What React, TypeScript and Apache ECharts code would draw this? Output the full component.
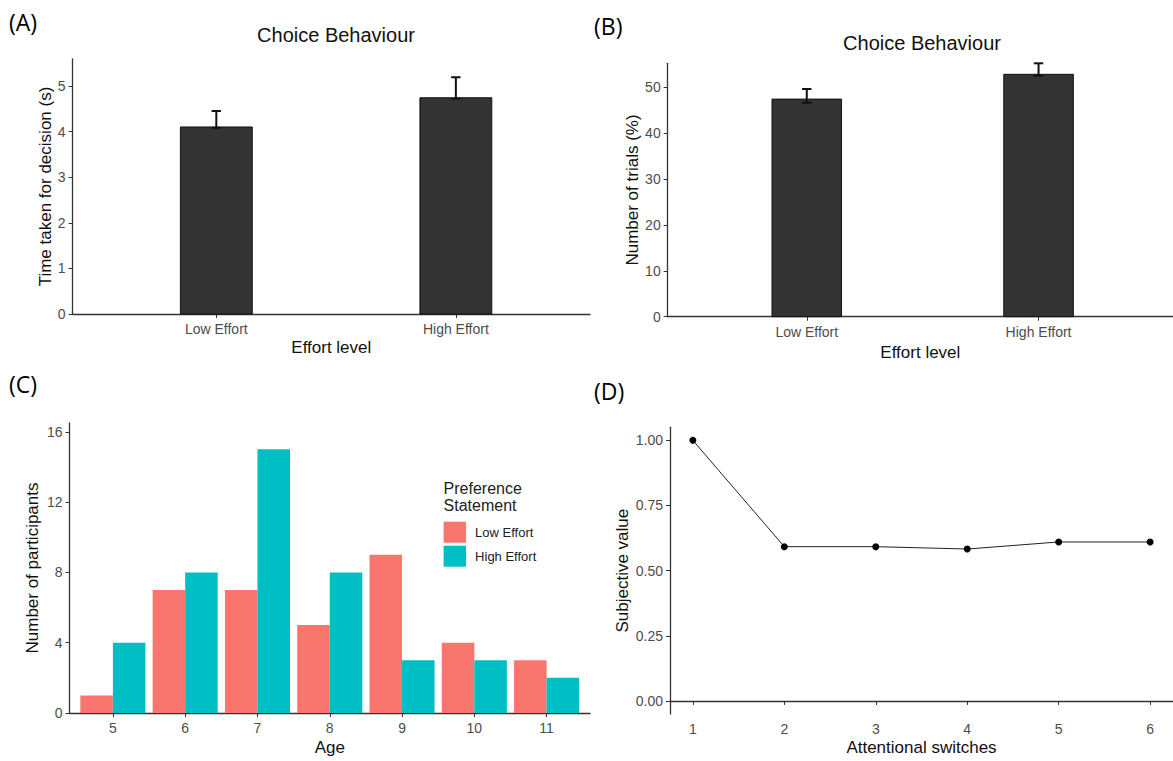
import React, { useEffect, useRef } from "react";
import * as echarts from "echarts";

const effortCats = ["Low Effort", "High Effort"];
const effortPos = [1, 2];
const decisionTime = [4.1, 4.74];
const decisionErrLow = [4.08, 4.72];
const decisionErrHigh = [4.45, 5.19];
const trialsPct = [47.4, 52.8];
const trialsErrLow = [46.6, 52.5];
const trialsErrHigh = [49.6, 55.2];

const ages = [5, 6, 7, 8, 9, 10, 11];
const lowEffortCounts = [1, 7, 7, 5, 9, 4, 3];
const highEffortCounts = [4, 8, 15, 8, 3, 3, 2];

const switches = [1, 2, 3, 4, 5, 6];
const subjectiveValue = [1.0, 0.592, 0.592, 0.583, 0.61, 0.61];

const yTicksA = [0, 1, 2, 3, 4, 5];
const yTicksB = [0, 10, 20, 30, 40, 50];
const yTicksC = [0, 4, 8, 12, 16];
const yTicksD = [0, 0.25, 0.5, 0.75, 1.0];

const FONT = "Liberation Sans";
const TICK_COLOR = "#4d4d4d";
const AXIS_COLOR = "#333";

function barRender(width: number, offset: number, stroke: string) {
  return (params: any, api: any) => {
    const x = api.value(0) + offset;
    const v = api.value(1);
    const p0 = api.coord([x - width / 2, v]);
    const p1 = api.coord([x + width / 2, 0]);
    return {
      type: "rect",
      shape: { x: p0[0], y: p0[1], width: p1[0] - p0[0], height: p1[1] - p0[1] },
      style: { fill: api.visual("color"), stroke, lineWidth: stroke === "none" ? 0 : 1 },
    };
  };
}

function errRender(params: any, api: any) {
  const x = api.value(0);
  const lo = api.coord([x, api.value(1)]);
  const hi = api.coord([x, api.value(2)]);
  const hw = 4.7;
  const st = { stroke: "#111", lineWidth: 2 };
  return {
    type: "group",
    children: [
      { type: "line", shape: { x1: lo[0], y1: lo[1], x2: hi[0], y2: hi[1] }, style: st },
      { type: "line", shape: { x1: hi[0] - hw, y1: hi[1], x2: hi[0] + hw, y2: hi[1] }, style: st },
      { type: "line", shape: { x1: lo[0] - hw, y1: lo[1], x2: lo[0] + hw, y2: lo[1] }, style: st },
    ],
  };
}

function xAxisCfg(gridIndex: number, min: number, max: number, values: number[], fmt: (v: number) => string, name: string, nameGap: number) {
  return {
    type: "value",
    gridIndex,
    min,
    max,
    name,
    nameLocation: "middle",
    nameGap,
    nameTextStyle: { fontFamily: FONT, fontSize: 17, color: "#111" },
    axisLine: { show: true, lineStyle: { color: AXIS_COLOR, width: 1.3 } },
    axisTick: { show: true, length: 4, lineStyle: { color: AXIS_COLOR }, customValues: values },
    axisLabel: { show: true, margin: 8, fontFamily: FONT, fontSize: 14, color: TICK_COLOR, customValues: values, formatter: fmt },
    splitLine: { show: false },
  };
}

function yAxisCfg(gridIndex: number, min: number, max: number, values: number[], fmt: (v: number) => string, name: string, nameGap: number) {
  return {
    type: "value",
    gridIndex,
    min,
    max,
    name,
    nameLocation: "middle",
    nameGap,
    nameRotate: 90,
    nameTextStyle: { fontFamily: FONT, fontSize: 17, color: "#111" },
    axisLine: { show: true, lineStyle: { color: AXIS_COLOR, width: 1.3 } },
    axisTick: { show: true, length: 4, lineStyle: { color: AXIS_COLOR }, customValues: values },
    axisLabel: { show: true, margin: 7, fontFamily: FONT, fontSize: 14, color: TICK_COLOR, customValues: values, formatter: fmt },
    splitLine: { show: false },
  };
}

export default function App() {
  const ref = useRef<HTMLDivElement>(null);
  useEffect(() => {
    if (!ref.current) return;
    const chart = echarts.init(ref.current, undefined, { renderer: "svg" });
    const catFmt = (v: number) => {
      const i = effortPos.indexOf(v);
      return i >= 0 ? effortCats[i] : "";
    };
    const option: any = {
      animation: false,
      backgroundColor: "#fff",
      grid: [
        { left: 72.6, right: 583, top: 59, bottom: 447 },
        { left: 667.7, right: 0, top: 63.3, bottom: 444.3 },
        { left: 69.5, right: 583, top: 423, bottom: 48 },
        { left: 670, right: 0, top: 427.3, bottom: 47 },
      ],
      xAxis: [
        xAxisCfg(0, 0.4, 2.56, effortPos, catFmt, "Effort level", 25),
        xAxisCfg(1, 0.4, 2.58, effortPos, catFmt, "Effort level", 27),
        xAxisCfg(2, 4.4, 11.6, ages, (v: number) => String(v), "Age", 26),
        xAxisCfg(3, 0.75, 6.25, switches, (v: number) => String(v), "Attentional switches", 25),
      ],
      yAxis: [
        yAxisCfg(0, 0, 5.59, yTicksA, (v: number) => String(v), "Time taken for decision (s)", 19),
        yAxisCfg(1, 0, 55.2, yTicksB, (v: number) => String(v), "Number of trials (%)", 27),
        yAxisCfg(2, 0, 16.5, yTicksC, (v: number) => String(v), "Number of participants", 29),
        yAxisCfg(3, -0.05, 1.05, yTicksD, (v: number) => v.toFixed(2), "Subjective value", 39),
      ],
      legend: {
        data: ["Low Effort", "High Effort"],
        orient: "vertical",
        left: 443.6,
        top: 521.7,
        padding: 0,
        itemWidth: 22.5,
        itemHeight: 21,
        itemGap: 3,
        icon: "rect",
        selectedMode: false,
        textStyle: { fontFamily: FONT, fontSize: 13, color: "#222", padding: [0, 0, 0, 4] },
      },
      graphic: [
        { type: "text", left: 9, top: 10, style: { text: "(A)", fontFamily: "Open Sans", fontSize: 23, fill: "#000" } },
        { type: "text", left: 594, top: 14, style: { text: "(B)", fontFamily: "Open Sans", fontSize: 23, fill: "#000" } },
        { type: "text", left: 9, top: 372, style: { text: "(C)", fontFamily: "Open Sans", fontSize: 23, fill: "#000" } },
        { type: "text", left: 594, top: 379, style: { text: "(D)", fontFamily: "Open Sans", fontSize: 23, fill: "#000" } },
        { type: "text", x: 336, y: 35, style: { text: "Choice Behaviour", fontFamily: FONT, fontSize: 20, fill: "#111", align: "center", verticalAlign: "middle" } },
        { type: "text", x: 922, y: 43, style: { text: "Choice Behaviour", fontFamily: FONT, fontSize: 20, fill: "#111", align: "center", verticalAlign: "middle" } },
        { type: "text", x: 443.6, y: 488, style: { text: "Preference", fontFamily: FONT, fontSize: 16, fill: "#222", align: "left", verticalAlign: "middle" } },
        { type: "text", x: 443.6, y: 505, style: { text: "Statement", fontFamily: FONT, fontSize: 16, fill: "#222", align: "left", verticalAlign: "middle" } },
      ],
      series: [
        {
          type: "custom",
          name: "Decision time",
          xAxisIndex: 0,
          yAxisIndex: 0,
          itemStyle: { color: "#333333" },
          renderItem: barRender(0.3, 0, "#111"),
          encode: { x: 0, y: 1 },
          data: effortPos.map((x, i) => [x, decisionTime[i]]),
          z: 2,
        },
        {
          type: "custom",
          name: "Decision time error",
          xAxisIndex: 0,
          yAxisIndex: 0,
          renderItem: errRender,
          encode: { x: 0, y: [1, 2] },
          data: effortPos.map((x, i) => [x, decisionErrLow[i], decisionErrHigh[i]]),
          z: 3,
        },
        {
          type: "custom",
          name: "Trials",
          xAxisIndex: 1,
          yAxisIndex: 1,
          itemStyle: { color: "#333333" },
          renderItem: barRender(0.3, 0, "#111"),
          encode: { x: 0, y: 1 },
          data: effortPos.map((x, i) => [x, trialsPct[i]]),
          z: 2,
        },
        {
          type: "custom",
          name: "Trials error",
          xAxisIndex: 1,
          yAxisIndex: 1,
          renderItem: errRender,
          encode: { x: 0, y: [1, 2] },
          data: effortPos.map((x, i) => [x, trialsErrLow[i], trialsErrHigh[i]]),
          z: 3,
        },
        {
          type: "custom",
          name: "Low Effort",
          xAxisIndex: 2,
          yAxisIndex: 2,
          itemStyle: { color: "#F8766D" },
          renderItem: barRender(0.45, -0.225, "none"),
          encode: { x: 0, y: 1 },
          data: ages.map((a, i) => [a, lowEffortCounts[i]]),
        },
        {
          type: "custom",
          name: "High Effort",
          xAxisIndex: 2,
          yAxisIndex: 2,
          itemStyle: { color: "#00BFC4" },
          renderItem: barRender(0.45, 0.225, "none"),
          encode: { x: 0, y: 1 },
          data: ages.map((a, i) => [a, highEffortCounts[i]]),
        },
        {
          type: "line",
          name: "Subjective value",
          xAxisIndex: 3,
          yAxisIndex: 3,
          symbol: "circle",
          symbolSize: 7,
          itemStyle: { color: "#000" },
          lineStyle: { color: "#222", width: 1 },
          data: switches.map((s, i) => [s, subjectiveValue[i]]),
        },
      ],
    };
    chart.setOption(option);
    return () => chart.dispose();
  }, []);
  return (
    <div
      ref={ref}
      style={{ position: "fixed", left: 0, top: 0, width: 1173, height: 761, background: "#fff" }}
    />
  );
}
